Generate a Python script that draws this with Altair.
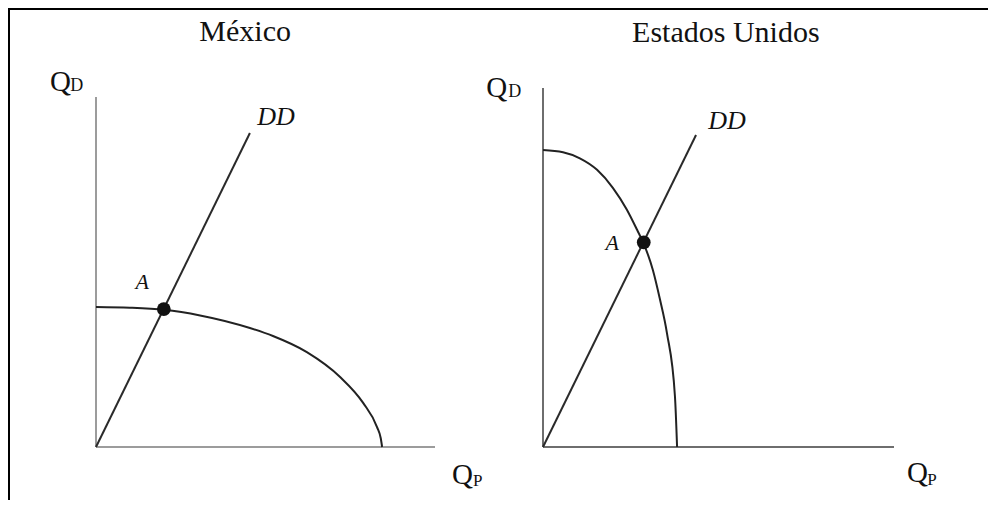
import altair as alt
import pandas as pd

# ---------------- data (axes 0-10 in each panel) -------------
# México: production possibilities frontier (Qp, Qd)
mx_ppf_qp = [0.0, 1.00, 2.01, 3.07, 4.54, 5.22, 6.22, 7.20, 7.88, 8.29, 8.40, 8.44]
mx_ppf_qd = [4.0, 3.98, 3.92, 3.76, 3.40, 3.17, 2.71, 2.00, 1.26, 0.57, 0.25, 0.0]
# México: demand ray DD
mx_dd_qp = [0.0, 4.54]
mx_dd_qd = [0.0, 8.97]
# México: point A
mx_a_qp = [2.0]
mx_a_qd = [3.94]

# Estados Unidos: production possibilities frontier
us_ppf_qp = [0.0, 0.57, 1.05, 1.54, 1.99, 2.39, 2.68, 2.88, 3.13, 3.33, 3.53, 3.76, 3.82]
us_ppf_qd = [8.27, 8.21, 8.04, 7.72, 7.22, 6.61, 6.05, 5.64, 4.93, 4.12, 3.18, 1.40, 0.0]
# Estados Unidos: demand ray DD
us_dd_qp = [0.0, 4.36]
us_dd_qd = [0.0, 8.69]
# Estados Unidos: point A
us_a_qp = [2.87]
us_a_qd = [5.70]

titles = ["México", "Estados Unidos"]

# annotation anchors (data units of each panel)
mx_labels = {
    "title": (4.40, 11.6, titles[0]),
    "dd": (5.31, 9.20, "DD"),
    "a": (1.36, 4.51, "A"),
    "yq": (-1.36, 10.17, "Q"), "ysub": (-0.76, 10.17, "D"),
    "xq": (10.50, -1.06, "Q"), "xsub": (11.12, -1.11, "P"),
}
us_labels = {
    "title": (5.21, 11.28, titles[1]),
    "dd": (5.24, 8.86, "DD"),
    "a": (1.97, 5.49, "A"),
    "yq": (-1.62, 9.75, "Q"), "ysub": (-0.99, 9.75, "D"),
    "xq": (10.37, -0.97, "Q"), "xsub": (10.95, -1.06, "P"),
}

W, H = 980, 492
FONT = "Liberation Serif"


def panel(xr, yr, ppf_x, ppf_y, dd_x, dd_y, a_x, a_y, labels, axis_color):
    xs = alt.Scale(domain=[0, 10], range=xr, nice=False, zero=False)
    ys = alt.Scale(domain=[0, 10], range=yr, nice=False, zero=False)

    def X(f="x"):
        return alt.X(f"{f}:Q", scale=xs, axis=None)

    def Y(f="y"):
        return alt.Y(f"{f}:Q", scale=ys, axis=None)

    layers = []
    axes_df = pd.DataFrame({"x": [0, 0], "y": [0, 0], "x2": [0, 10], "y2": [10, 0]})
    layers.append(
        alt.Chart(axes_df).mark_rule(color=axis_color, strokeWidth=2).encode(
            x=X(), y=Y(), x2="x2:Q", y2="y2:Q"
        )
    )
    ppf_df = pd.DataFrame({"x": ppf_x, "y": ppf_y})
    layers.append(
        alt.Chart(ppf_df).mark_line(color="#222222", strokeWidth=2, interpolate="monotone").encode(
            x=X(), y=Y(), order="x:Q"
        )
    )
    dd_df = pd.DataFrame({"x": dd_x, "y": dd_y})
    layers.append(
        alt.Chart(dd_df).mark_line(color="#2a2a2a", strokeWidth=2).encode(x=X(), y=Y())
    )
    a_df = pd.DataFrame({"x": a_x, "y": a_y})
    layers.append(
        alt.Chart(a_df).mark_circle(color="#111111", opacity=1, size=190).encode(x=X(), y=Y())
    )

    styles = {
        "title": dict(fontSize=30, align="center"),
        "dd": dict(fontSize=26, align="center", fontStyle="italic"),
        "a": dict(fontSize=22, align="center", fontStyle="italic"),
        "yq": dict(fontSize=29, align="left"),
        "ysub": dict(fontSize=18, align="left"),
        "xq": dict(fontSize=29, align="left"),
        "xsub": dict(fontSize=17, align="left"),
    }
    for key, (lx, ly, txt) in labels.items():
        df = pd.DataFrame({"x": [lx], "y": [ly], "t": [txt]})
        layers.append(
            alt.Chart(df).mark_text(
                font=FONT, color="#111111", baseline="alphabetic", **styles[key]
            ).encode(x=X(), y=Y(), text="t:N")
        )
    return layers


left = panel([88, 427], [439, 89], mx_ppf_qp, mx_ppf_qd, mx_dd_qp, mx_dd_qd,
             mx_a_qp, mx_a_qd, mx_labels, "#9c9c9c")
right = panel([535, 886], [439, 80], us_ppf_qp, us_ppf_qd, us_dd_qp, us_dd_qd,
              us_a_qp, us_a_qd, us_labels, "#6e6e6e")

one = pd.DataFrame({"k": [0]})
border_top = alt.Chart(one).mark_rule(color="#000000", strokeWidth=2).encode(
    x=alt.value(0), x2=alt.value(W), y=alt.value(1)
)
border_left = alt.Chart(one).mark_rule(color="#000000", strokeWidth=2).encode(
    x=alt.value(1), y=alt.value(0), y2=alt.value(H)
)

chart = (
    alt.layer(*left, *right, border_top, border_left)
    .resolve_scale(x="independent", y="independent")
    .properties(width=W, height=H, padding=0, autosize=alt.AutoSizeParams(type="none"),
                background="white")
    .configure_view(stroke=None)
)

chart.save("out.html", embed_options={"renderer": "svg", "actions": False})
